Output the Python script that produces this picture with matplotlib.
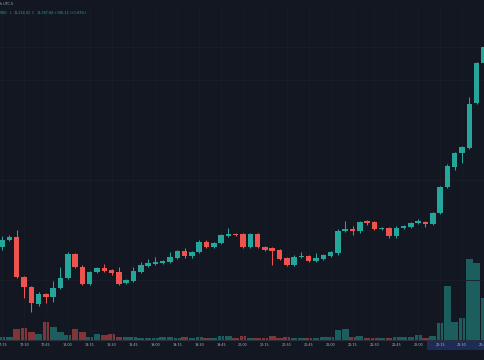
import matplotlib

matplotlib.use("Agg")
import matplotlib.pyplot as plt
from matplotlib.patches import Rectangle

# 5-minute candles, 17:15 .. 22:45
times = [
    "17:15", "17:20", "17:25", "17:30", "17:35", "17:40", "17:45", "17:50", "17:55",
    "18:00", "18:05", "18:10", "18:15", "18:20", "18:25", "18:30", "18:35", "18:40",
    "18:45", "18:50", "18:55", "19:00", "19:05", "19:10", "19:15", "19:20", "19:25",
    "19:30", "19:35", "19:40", "19:45", "19:50", "19:55", "20:00", "20:05", "20:10",
    "20:15", "20:20", "20:25", "20:30", "20:35", "20:40", "20:45", "20:50", "20:55",
    "21:00", "21:05", "21:10", "21:15", "21:20", "21:25", "21:30", "21:35", "21:40",
    "21:45", "21:50", "21:55", "22:00", "22:05", "22:10", "22:15", "22:20", "22:25",
    "22:30", "22:35", "22:40", "22:45",
]
opens = [
    11188, 11195, 11198, 11158, 11148, 11131, 11141, 11138, 11147, 11157, 11181, 11168,
    11151, 11163, 11167, 11165, 11163, 11152, 11154, 11163, 11169, 11171, 11172, 11173,
    11177, 11184, 11179, 11183, 11193, 11188, 11192, 11199, 11201, 11201, 11188, 11201,
    11188, 11187, 11185, 11177, 11170, 11178, 11179, 11174, 11176, 11179, 11182, 11204,
    11206, 11204, 11214, 11213, 11206, 11207, 11199, 11207, 11208, 11212, 11213, 11211,
    11222, 11248, 11268, 11282, 11287, 11332, 11372,
]
highs = [
    11199, 11200, 11205, 11159, 11149, 11143, 11142, 11154, 11168, 11183, 11182, 11170,
    11164, 11168, 11171, 11166, 11168, 11156, 11168, 11173, 11176, 11178, 11175, 11183,
    11185, 11187, 11184, 11195, 11195, 11193, 11201, 11207, 11202, 11202, 11202, 11202,
    11189, 11188, 11186, 11178, 11180, 11183, 11180, 11182, 11181, 11184, 11206, 11214,
    11209, 11214, 11215, 11214, 11208, 11208, 11209, 11210, 11213, 11216, 11214, 11223,
    11249, 11271, 11283, 11289, 11338, 11373, 11389,
]
lows = [
    11185, 11194, 11157, 11137, 11123, 11129, 11132, 11133, 11146, 11156, 11167, 11150,
    11150, 11162, 11163, 11160, 11150, 11151, 11153, 11162, 11168, 11170, 11171, 11172,
    11176, 11177, 11177, 11182, 11187, 11187, 11191, 11198, 11199, 11187, 11187, 11187,
    11184, 11170, 11175, 11169, 11169, 11177, 11173, 11173, 11175, 11178, 11180, 11203,
    11200, 11202, 11210, 11205, 11205, 11197, 11197, 11206, 11207, 11211, 11208, 11210,
    11221, 11247, 11265, 11272, 11286, 11331, 11371,
]
closes = [
    11195, 11198, 11158, 11148, 11132, 11141, 11138, 11147, 11157, 11181, 11168, 11151,
    11163, 11167, 11164, 11162, 11151, 11155, 11164, 11170, 11172, 11173, 11174, 11178,
    11184, 11179, 11183, 11193, 11188, 11192, 11200, 11201, 11200, 11188, 11201, 11188,
    11185, 11184, 11176, 11170, 11178, 11179, 11174, 11177, 11180, 11183, 11204, 11206,
    11204, 11213, 11212, 11206, 11207, 11199, 11207, 11209, 11212, 11214, 11211, 11222,
    11248, 11269, 11282, 11288, 11331, 11372, 11388,
]
volumes = [
    30, 30, 110, 120, 80, 60, 180, 130, 80, 50, 110, 80, 30, 60, 50, 60, 30, 30,
    30, 20, 20, 20, 30, 30, 20, 30, 20, 30, 20, 20, 40, 40, 20, 40, 20, 20,
    20, 40, 20, 30, 20, 20, 20, 20, 30, 30, 100, 110, 30, 40, 20, 20, 20, 20,
    30, 30, 30, 50, 20, 40, 170, 540, 180, 220, 810, 770, 420,
]
header_parts = [("0.80", "#26a69a"), ("L", "#787b86"), ("11,214.92", "#26a69a"),
                ("C", "#787b86"), ("11,387.84", "#26a69a"), ("+196.11 (+1.69%)", "#26a69a")]

BG = "#131722"
UP = "#26a69a"
DOWN = "#ef5350"
W, H = 485, 360


def box(x0, y0, x1, y1):
    # pixel box (top-left origin) -> figure fraction rect
    return [x0 / W, 1 - y1 / H, (x1 - x0) / W, (y1 - y0) / H]


fig = plt.figure(figsize=(W / 100, H / 100), dpi=100, facecolor=BG)

# top bar
top = fig.add_axes(box(0, 0, W, 8))
top.set_facecolor("#1c1c1f")
top.set_axis_off()
fig.text(0.5 / W, 1 - 4 / H, "h UTC-5", fontsize=2.4, color="#b2b5be", va="center")

ax = fig.add_axes(box(0, 8, W, 340))
ax.set_facecolor(BG)
ax.set_xlim(-2.1 / 7.3, (W - 2.1) / 7.3)
ax.set_ylim(11095, 11427)
for s in ax.spines.values():
    s.set_visible(False)
ax.set_xticks([])
ax.set_yticks([])

n = len(times)
idx = list(range(n))
for k in idx[::3]:
    ax.axvline(k, color="#181c27", lw=0.6, zorder=0)
for p in (11388, 11355, 11255, 11155):
    ax.axhline(p, color="#1a1e29", lw=0.6, zorder=0)

vax = ax.twinx()
vax.set_ylim(0, 3320)
vax.set_axis_off()
vcols = [UP if c >= o else DOWN for o, c in zip(opens, closes)]
vax.bar(idx, volumes, width=0.92, color=vcols, alpha=0.5, linewidth=0, zorder=1)

for k in idx:
    o, h, l, c = opens[k], highs[k], lows[k], closes[k]
    col = UP if c >= o else DOWN
    ax.vlines(k, l, h, color=col, lw=0.75, zorder=3)
    ax.bar(k, max(abs(c - o), 1.2), bottom=min(o, c), width=0.75, color=col,
           linewidth=0, zorder=4)
ax.set_zorder(vax.get_zorder() + 1)
ax.patch.set_visible(False)
fig.patches.append(Rectangle((0, 1 - 340 / H), 1, 332 / H, transform=fig.transFigure,
                             color=BG, zorder=-10))

# header line
x = 0.0
for txt, col in header_parts:
    fig.text(x / W, 1 - 13.5 / H, txt, fontsize=2.4, color=col, va="center")
    x += len(txt) * 1.75 + 2.5

# time axis
tax = fig.add_axes(box(0, 340, W, 350))
tax.set_facecolor("#131722")
tax.set_xlim(ax.get_xlim())
tax.set_ylim(0, 1)
tax.set_xticks([])
tax.set_yticks([])
for s in tax.spines.values():
    s.set_visible(False)
tax.axhline(1, color="#2a2e39", lw=0.8)
tax.add_patch(Rectangle(((427 - 2.1) / 7.3, 0), (W - 427) / 7.3, 1, color="#1d2c55", lw=0))
for k in idx[::3]:
    tax.text(k, 0.5, times[k], fontsize=2.4, color="#b2b5be", ha="center", va="center")

bot = fig.add_axes(box(0, 350, W, H))
bot.set_facecolor("#1e1e20")
bot.set_axis_off()

fig.savefig("out.png", dpi=100, facecolor=BG)
